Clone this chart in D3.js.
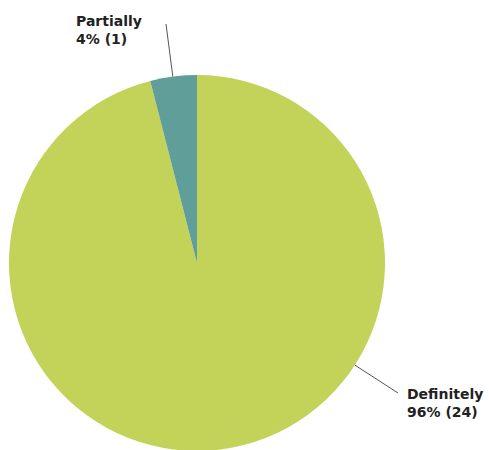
<!DOCTYPE html>
<html>
<head>
<meta charset="utf-8">
<script src="https://cdn.jsdelivr.net/npm/d3@7"></script>
<style>
  html, body { margin: 0; padding: 0; background: #fff; }
  svg { display: block; }
  text { font-family: "DejaVu Sans", Verdana, sans-serif; font-weight: bold; font-size: 14px; fill: #222; }
</style>
</head>
<body>
<svg id="chart" width="489" height="450"></svg>
<script>
// Survey answers
const categories = ["Definitely", "Partially"];
const counts = [24, 1];
const colors = ["#c3d35a", "#5f9e99"];

// Label anchor points (left edge, first baseline) for each category
const labelAnchors = [[407, 399], [76, 26]];
const leaderEnds = [[398, 393], [166, 24]];

const width = 489, height = 450;
const cx = 197, cy = 263, radius = 188;

const svg = d3.select("#chart");
const g = svg.append("g").attr("transform", `translate(${cx},${cy})`);

const total = d3.sum(counts);
const data = categories.map((c, i) => ({ name: c, value: counts[i], color: colors[i], i }));

const pie = d3.pie().value(d => d.value).sort(null);
const arc = d3.arc().innerRadius(0).outerRadius(radius);
const arcs = pie(data);

g.selectAll("path.slice")
  .data(arcs)
  .join("path")
  .attr("class", "slice")
  .attr("d", arc)
  .attr("fill", d => d.data.color);

// Leader lines: from the pie edge, in the direction of the label, out to the label
arcs.forEach(a => {
  const end = leaderEnds[a.data.i];
  const dx = end[0] - cx, dy = end[1] - cy;
  const len = Math.hypot(dx, dy);
  const sx = cx + dx / len * radius, sy = cy + dy / len * radius;
  svg.append("line")
    .attr("x1", sx).attr("y1", sy)
    .attr("x2", end[0]).attr("y2", end[1])
    .attr("stroke", "#555").attr("stroke-width", 1);
});

// Labels
arcs.forEach(a => {
  const [lx, ly] = labelAnchors[a.data.i];
  const pct = Math.round(a.data.value / total * 100);
  const t = svg.append("text").attr("x", lx).attr("y", ly);
  t.append("tspan").attr("x", lx).text(a.data.name);
  t.append("tspan").attr("x", lx).attr("dy", 18).text(`${pct}% (${a.data.value})`);
});
</script>
</body>
</html>
